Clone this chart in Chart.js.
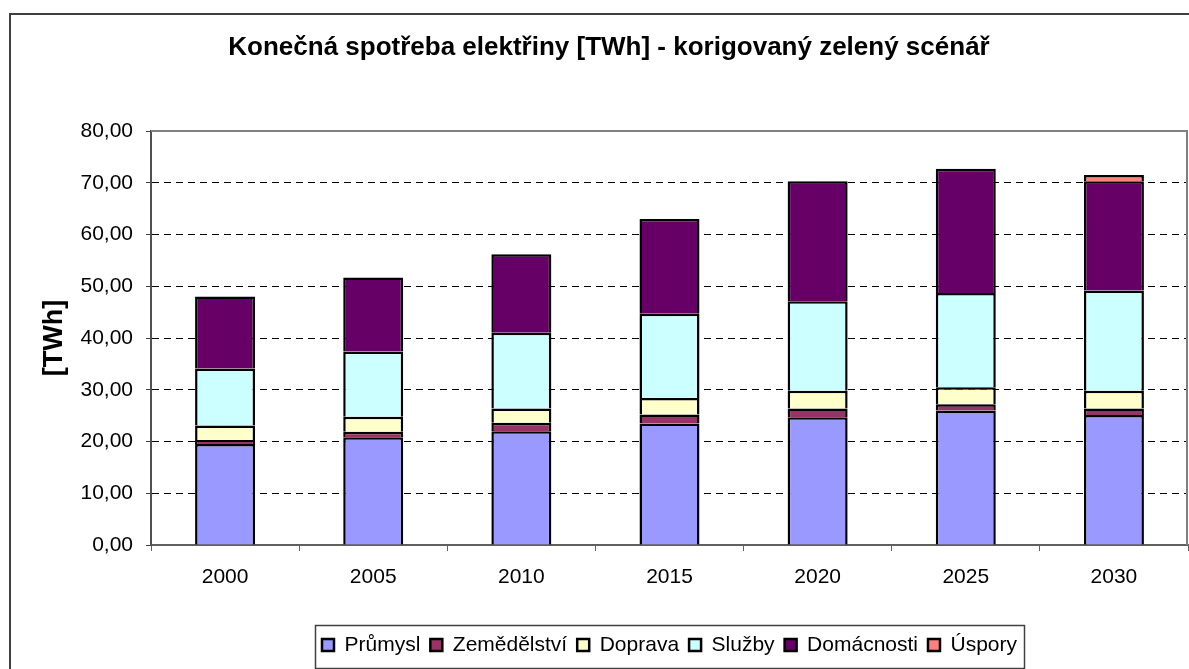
<!DOCTYPE html>
<html>
<head>
<meta charset="utf-8">
<script src="https://cdn.jsdelivr.net/npm/chart.js@4.4.1/dist/chart.umd.min.js"></script>
<style>
html, body { margin: 0; padding: 0; background: #ffffff; }
canvas { display: block; }
</style>
</head>
<body>
<canvas id="c" width="1189" height="669" style="width:1189px;height:669px"></canvas>
<script>
const years = ['2000', '2005', '2010', '2015', '2020', '2025', '2030'];
const prumysl = [19.5, 20.8, 22.0, 23.5, 24.7, 26.0, 25.1];
const zemedelstvi = [0.8, 1.1, 1.6, 1.7, 1.7, 1.2, 1.3];
const doprava = [2.8, 2.9, 2.8, 3.2, 3.4, 3.3, 3.4];
const sluzby = [11.0, 12.6, 14.6, 16.3, 17.3, 18.2, 19.4];
const domacnosti = [13.9, 14.3, 15.2, 18.3, 23.2, 24.0, 21.1];
const uspory = [null, null, null, null, null, null, 1.2];
const seriesNames = ['Průmysl', 'Zemědělství', 'Doprava', 'Služby', 'Domácnosti', 'Úspory'];
const seriesColors = ['#9999FF', '#993366', '#FFFFCC', '#CCFFFF', '#660066', '#FF8080'];
const yTicks = { min: 0, max: 80, step: 10 };
const chartTitle = 'Konečná spotřeba elektřiny [TWh] - korigovaný zelený scénář';
const yTitle = '[TWh]';

const FONT = '"Liberation Sans", Arial, sans-serif';
const seriesData = [prumysl, zemedelstvi, doprava, sluzby, domacnosti, uspory];

const framePlugin = {
  id: 'frame',
  beforeDraw(chart) {
    const ctx = chart.ctx;
    ctx.save();
    ctx.fillStyle = '#ffffff';
    ctx.fillRect(0, 0, chart.width, chart.height);
    ctx.strokeStyle = '#404040';
    ctx.lineWidth = 2;
    ctx.beginPath();
    ctx.moveTo(10, chart.height + 2);
    ctx.lineTo(10, 14);
    ctx.lineTo(chart.width + 2, 14);
    ctx.stroke();
    ctx.restore();
    if (chart.titleBlock) {
      chart.titleBlock.left = 10;
      chart.titleBlock.right = 1208;
    }
  },
  afterDatasetsDraw(chart) {
    const a = chart.chartArea;
    const ctx = chart.ctx;
    ctx.save();
    ctx.strokeStyle = '#808080';
    ctx.lineWidth = 2;
    ctx.beginPath();
    ctx.moveTo(a.left, a.top);
    ctx.lineTo(a.right - 1, a.top);
    ctx.lineTo(a.right - 1, a.bottom);
    ctx.stroke();
    ctx.restore();
  },
  afterDraw(chart) {
    const lg = chart.legend;
    if (!lg || !lg.legendHitBoxes || !lg.legendHitBoxes.length) return;
    const hb = lg.legendHitBoxes;
    let l = Infinity, r = -Infinity, t = Infinity, b = -Infinity;
    hb.forEach(h => {
      l = Math.min(l, h.left);
      r = Math.max(r, h.left + h.width);
      t = Math.min(t, h.top);
      b = Math.max(b, h.top + h.height);
    });
    const ctx = chart.ctx;
    ctx.save();
    ctx.strokeStyle = '#404040';
    ctx.lineWidth = 1.5;
    ctx.strokeRect(Math.round(l - 7) + 0.5, Math.round(t - 10) + 0.5, Math.round(r - l + 14), Math.round(b - t + 22));
    ctx.restore();
  }
};

new Chart(document.getElementById('c'), {
  type: 'bar',
  data: {
    labels: years,
    datasets: seriesNames.map((name, i) => ({
      label: name,
      data: seriesData[i],
      backgroundColor: seriesColors[i],
      borderColor: '#000000',
      borderWidth: 2.5,
      categoryPercentage: 1.0,
      barPercentage: 0.405
    }))
  },
  options: {
    responsive: false,
    devicePixelRatio: 1,
    animation: false,
    layout: { padding: { left: 10, right: 1, top: 0, bottom: 3.5 } },
    plugins: {
      tooltip: { enabled: false },
      title: {
        display: true,
        text: chartTitle,
        color: '#000000',
        font: { family: FONT, size: 26, weight: 'bold' },
        padding: { top: 32.4, bottom: 67.4 }
      },
      legend: {
        display: true,
        position: 'bottom',
        fullSize: false,
        labels: {
          color: '#000000',
          font: { family: FONT, size: 21 },
          boxWidth: 12,
          boxHeight: 12,
          padding: 10
        }
      }
    },
    scales: {
      x: {
        stacked: true,
        offset: true,
        afterFit(scale) { scale.height = 79.5; },
        grid: {
          offset: true,
          drawOnChartArea: false,
          drawTicks: true,
          tickLength: 6,
          color: '#606060',
          tickColor: '#606060'
        },
        border: { display: true, color: '#606060', width: 2 },
        ticks: {
          color: '#000000',
          font: { family: FONT, size: 21 },
          padding: 14,
          maxRotation: 0
        }
      },
      y: {
        stacked: true,
        min: yTicks.min,
        max: yTicks.max,
        afterFit(scale) { scale.width = 141; },
        ticks: {
          stepSize: yTicks.step,
          color: '#000000',
          font: { family: FONT, size: 21 },
          padding: 13,
          callback: v => Number(v).toFixed(2).replace('.', ',')
        },
        grid: {
          color: '#000000',
          lineWidth: 1,
          drawTicks: true,
          tickLength: 5,
          tickColor: '#404040',
          tickBorderDash: []
        },
        border: { display: true, color: '#505050', width: 2, dash: [7, 5] },
        title: {
          display: true,
          text: yTitle,
          color: '#000000',
          font: { family: FONT, size: 27, weight: 'bold' },
          padding: { top: 28.8, bottom: 0 }
        }
      }
    }
  },
  plugins: [framePlugin]
});
</script>
</body>
</html>
